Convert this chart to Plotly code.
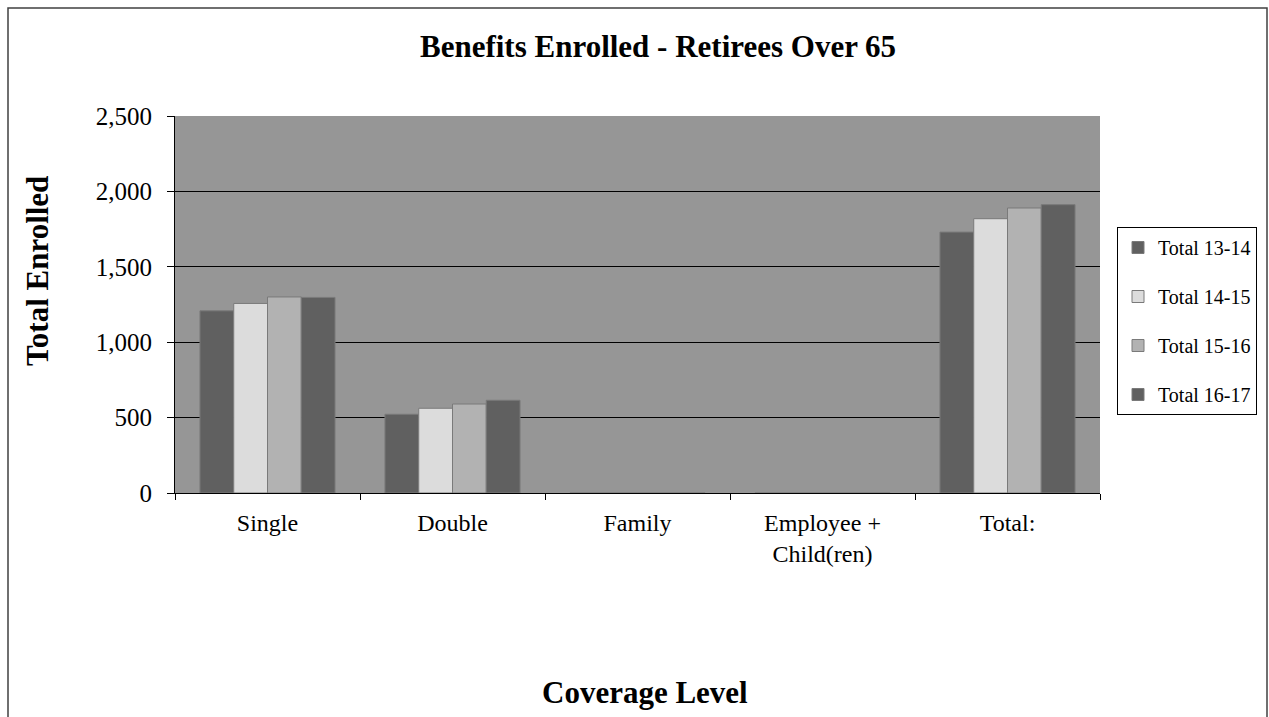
import plotly.graph_objects as go

categories = ["Single", "Double", "Family", "Employee +<br>Child(ren)", "Total:"]
series_names = ["Total 13-14", "Total 14-15", "Total 15-16", "Total 16-17"]
total_13_14 = [1208, 522, 0, 0, 1730]
total_14_15 = [1257, 562, 0, 0, 1819]
total_15_16 = [1300, 590, 0, 0, 1890]
total_16_17 = [1297, 615, 0, 0, 1912]
series_values = [total_13_14, total_14_15, total_15_16, total_16_17]
colors = ["#606060", "#dcdcdc", "#b2b2b2", "#606060"]

FONT = "Liberation Serif"

fig = go.Figure()
for i, (name, vals) in enumerate(zip(series_names, series_values)):
    fig.add_trace(go.Bar(
        x=categories, y=vals, name=name, legendgroup=f"g{i}",
        marker=dict(color=colors[i], line=dict(color="#7a7a7a", width=1)),
    ))

L, R, T, B = 175, 169, 116, 224
W, H = 1269, 717
pw, ph = W - L - R, H - T - B

def px2paper_x(px):
    return (px - L) / pw

def px2paper_y(py):
    return (H - B - py) / ph

fig.update_layout(
    width=W, height=H,
    margin=dict(l=L, r=R, t=T, b=B),
    paper_bgcolor="white",
    plot_bgcolor="#969696",
    barmode="group",
    bargap=0.27,
    bargroupgap=0,
    font=dict(family=FONT, color="black", size=24),
    xaxis=dict(
        showline=True, linecolor="black", linewidth=1,
        ticks="outside", tickson="boundaries", ticklen=6, tickcolor="black",
        tickfont=dict(size=24, family=FONT), ticklabelstandoff=8,
    ),
    yaxis=dict(
        range=[0, 2500], dtick=500, tickformat=",",
        showline=True, linecolor="black", linewidth=1,
        ticks="outside", ticklen=7, tickcolor="black",
        showgrid=True, gridcolor="black", gridwidth=1,
        tickfont=dict(size=25, family=FONT), ticklabelstandoff=10,
        zeroline=False,
    ),
    legend=dict(
        x=px2paper_x(1117), y=px2paper_y(227), xanchor="left", yanchor="top",
        bordercolor="black", borderwidth=1, bgcolor="white",
        font=dict(size=20, family=FONT), tracegroupgap=20,
        itemwidth=30,
    ),
    showlegend=True,
)

fig.add_annotation(text="<b>Benefits Enrolled - Retirees Over 65</b>", xref="paper", yref="paper",
                   x=px2paper_x(658), y=px2paper_y(47), xanchor="center", yanchor="middle",
                   showarrow=False, font=dict(size=31, family=FONT))
fig.add_annotation(text="<b>Coverage Level</b>", xref="paper", yref="paper",
                   x=px2paper_x(645), y=px2paper_y(692), xanchor="center", yanchor="middle",
                   showarrow=False, font=dict(size=31, family=FONT))
fig.add_annotation(text="<b>Total Enrolled</b>", xref="paper", yref="paper",
                   x=px2paper_x(37), y=px2paper_y(271), xanchor="center", yanchor="middle",
                   textangle=-90, showarrow=False, font=dict(size=31, family=FONT))

fig.add_shape(type="rect", xref="paper", yref="paper",
              x0=px2paper_x(8), x1=px2paper_x(1267), y0=px2paper_y(760), y1=px2paper_y(8),
              line=dict(color="#404040", width=1.5), fillcolor="rgba(0,0,0,0)", layer="below")

fig.write_html("out.html")
